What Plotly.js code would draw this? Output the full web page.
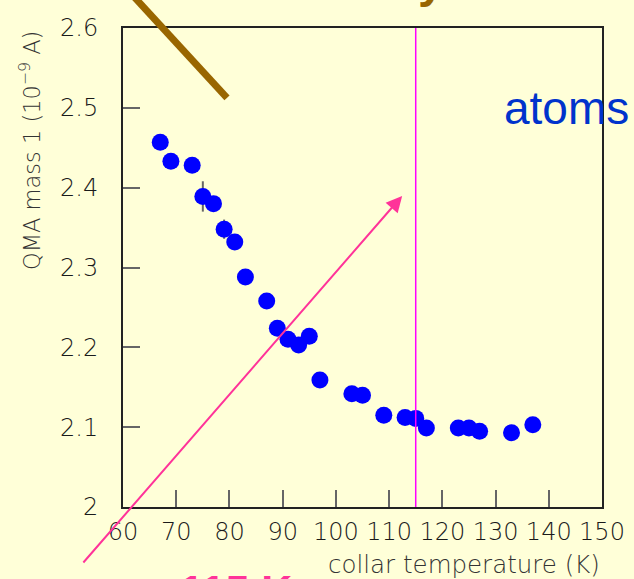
<!DOCTYPE html>
<html>
<head>
<meta charset="utf-8">
<script src="https://cdn.plot.ly/plotly-3.0.1.min.js"></script>
<style>
html,body{margin:0;padding:0;background:#ffffd8;}
#chart{width:634px;height:579px;}
</style>
</head>
<body>
<div id="chart"></div>
<script>
// collar temperature (K)
const temperatureK = [67, 69, 73, 75, 77, 79, 81, 83, 87, 89, 91, 93, 95, 97, 103, 105, 109, 113, 115, 117, 123, 125, 127, 133, 137];
// QMA mass 1 signal (1e-9 A)
const qmaMass1 = [2.457, 2.433, 2.428, 2.389, 2.380, 2.348, 2.332, 2.288, 2.258, 2.224, 2.210, 2.203, 2.214, 2.159, 2.142, 2.140, 2.115, 2.112, 2.111, 2.099, 2.099, 2.099, 2.095, 2.093, 2.103];
// visible error bars
const qmaError = [0, 0, 0, 0.019, 0, 0.012, 0, 0, 0, 0, 0, 0, 0, 0, 0, 0, 0, 0, 0, 0, 0, 0, 0, 0, 0];
const xTickVals = [60, 70, 80, 90, 100, 110, 120, 130, 140, 150];
const yTickVals = [2, 2.1, 2.2, 2.3, 2.4, 2.5, 2.6];
const thresholdK = 115;

const tickFont = {family: 'DejaVu Sans Light, DejaVu Sans', size: 24, color: '#1a1a1a', weight: 200};
const yTitleFont = {family: 'DejaVu Sans Light, DejaVu Sans', size: 22.5, color: '#333', weight: 200};
const xTitleFont = {family: 'DejaVu Sans Light, DejaVu Sans', size: 24.5, color: '#333', weight: 200};

const trace = {
  type: 'scatter', mode: 'markers',
  x: temperatureK, y: qmaMass1,
  marker: {color: '#0000ff', size: 17},
  error_y: {type: 'data', array: qmaError, visible: true, color: '#666', thickness: 2, width: 0},
  cliponaxis: false,
  hoverinfo: 'x+y'
};

const layout = {
  width: 634, height: 579,
  paper_bgcolor: '#ffffd8', plot_bgcolor: '#ffffd8',
  margin: {l: 123, r: 32, t: 28, b: 72},
  showlegend: false,
  xaxis: {
    range: [60, 150], tickvals: xTickVals, ticktext: xTickVals.map(String),
    ticks: 'inside', ticklen: 17, tickwidth: 2, tickcolor: '#666',
    showline: true, linecolor: '#222', linewidth: 2, mirror: true,
    showgrid: false, zeroline: false,
    tickfont: tickFont, ticklabelstandoff: 2
  },
  yaxis: {
    range: [2, 2.6], tickvals: yTickVals, ticktext: yTickVals.map(String),
    ticks: 'inside', ticklen: 17, tickwidth: 2, tickcolor: '#666',
    showline: true, linecolor: '#222', linewidth: 2, mirror: true,
    showgrid: false, zeroline: false,
    tickfont: tickFont, ticklabelstandoff: 18
  },
  shapes: [
    {type: 'line', xref: 'x', yref: 'paper', x0: thresholdK, x1: thresholdK, y0: 0, y1: 1,
     line: {color: '#ff00ff', width: 1.5}},
    {type: 'line', xref: 'paper', yref: 'paper', x0: 0.010, y0: 1.0793, x1: 0.2171, y1: 0.8539,
     line: {color: '#996600', width: 7}}
  ],
  annotations: [
    {text: 'QMA mass 1 (10<sup>−9</sup> A)', xref: 'paper', yref: 'paper',
     x: -0.195, y: 0.998, xanchor: 'center', yanchor: 'top', textangle: -90,
     showarrow: false, font: yTitleFont},
    {text: 'collar temperature (K)', xref: 'paper', yref: 'paper',
     x: 1.0, y: -0.121, xanchor: 'right', yanchor: 'middle',
     showarrow: false, font: xTitleFont},
    {text: 'atoms', xref: 'paper', yref: 'paper', x: 0.925, y: 0.833,
     xanchor: 'center', yanchor: 'middle', showarrow: false,
     font: {family: 'Liberation Sans, Arial', size: 46, color: '#0033cc'}},
    {text: '<b>y</b>', xref: 'paper', yref: 'paper', x: 0.645, y: 1.0397,
     xanchor: 'center', yanchor: 'bottom', showarrow: false,
     font: {family: 'Liberation Sans, Arial', size: 48, color: '#996600'}},
    {text: '<b>115 K</b>', xref: 'paper', yref: 'paper', x: 0.115, y: -0.119,
     xanchor: 'left', yanchor: 'top', showarrow: false,
     font: {family: 'Liberation Sans, Arial', size: 43, color: '#ff3399'}},
    {text: '', xref: 'x', yref: 'y', x: 112.45, y: 2.3897,
     axref: 'x', ayref: 'y', ax: 52.31, ay: 1.9286,
     showarrow: true, arrowhead: 2, arrowsize: 1.6, arrowwidth: 2, arrowcolor: '#ff3399',
     standoff: 0, startstandoff: 0}
  ]
};

Plotly.newPlot('chart', [trace], layout, {displayModeBar: false, staticPlot: true});
</script>
</body>
</html>
